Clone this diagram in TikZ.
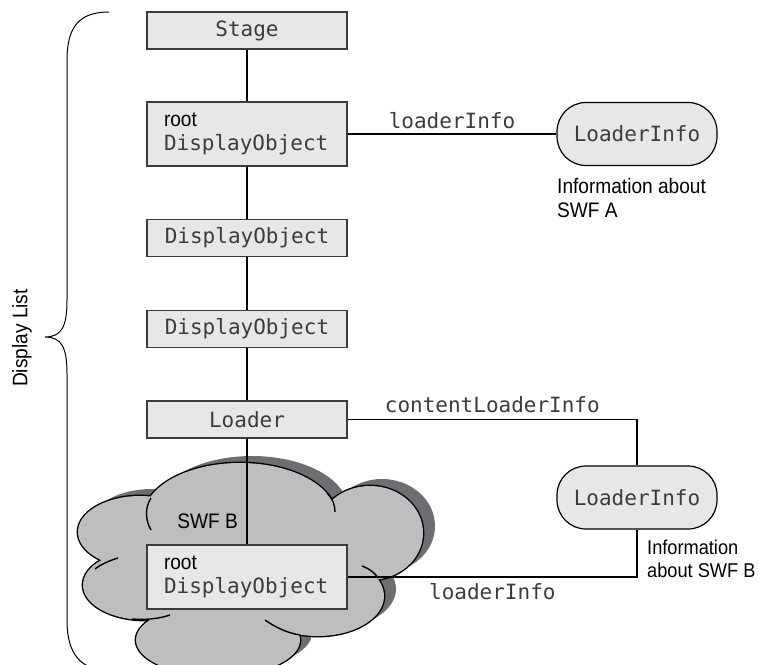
\documentclass[tikz,border=0pt]{standalone}
\usepackage{fontspec}
\setmainfont{Liberation Sans}[FakeStretch=0.91]
\setmonofont{DejaVu Sans Mono}
\definecolor{boxgray}{HTML}{E6E7E8}
\definecolor{cloudgray}{HTML}{BCBEC0}
\definecolor{shadowgray}{HTML}{6D6E71}
\definecolor{codegray}{HTML}{3C3C3C}
\newcommand{\codefont}{\ttfamily\fontsize{21}{24}\selectfont\color{codegray}}

\begin{document}
\begin{tikzpicture}[x=1pt, y=-1pt,
  every node/.style={font=\fontsize{21}{24}\selectfont},
  objbox/.style={draw=codegray, fill=boxgray, line width=1.3pt, minimum width=200pt, minimum height=37pt, inner sep=0pt, font=\codefont},
  rootbox/.style={objbox, minimum height=64pt, text width=166pt, inner xsep=17pt, align=left, font=\fontsize{21}{24}\selectfont},
  infobox/.style={draw=black, fill=boxgray, line width=1.2pt, rounded corners=29pt, minimum width=160pt, minimum height=63pt, font=\codefont},
  infotext/.style={inner sep=0pt, align=left, anchor=north west},
  codelabel/.style={font=\codefont, inner sep=2pt},
  conn/.style={line width=1.4pt}]
  \path[use as bounding box] (0,0) rectangle (759,664);
  \clip (0,0) rectangle (759,664);

  % cloud for SWF B: shadow, outline, fill
  \def\cloudlobes{240/516/96/53, 370/533/53/47, 318/596/66/40, 218/640/82/36, 145/585/62/35, 140/532/62/36}
  \foreach \cx/\cy/\rx/\ry in \cloudlobes
    \fill[shadowgray] (\cx+12,\cy-7) ellipse [x radius=\rx pt, y radius=\ry pt];
  \foreach \cx/\cy/\rx/\ry in \cloudlobes
    \draw[line width=2.8pt] (\cx,\cy) ellipse [x radius=\rx pt, y radius=\ry pt];
  \foreach \cx/\cy/\rx/\ry in \cloudlobes
    \fill[cloudgray] (\cx,\cy) ellipse [x radius=\rx pt, y radius=\ry pt];
  \fill[cloudgray] (255,580) ellipse [x radius=110pt, y radius=55pt];
  \draw[conn] (151,498) .. controls (145,507) and (145,520) .. (151,530);
  \draw[conn] (327,493) .. controls (333,499) and (335,505) .. (335,512);
  \draw[conn] (118,558) .. controls (108,561) and (100,565) .. (95,569);
  \draw[conn] (132,619) .. controls (145,620) and (158,619) .. (170,615);
  \draw[conn] (265,620) .. controls (275,627) and (287,633) .. (300,635);
  \draw[conn] (362,566) .. controls (370,569) and (375,573) .. (378,578);

  % display list brace
  \draw[line width=1pt] (109,12) .. controls (80,12) and (67,26) .. (67,60) -- (67,300)
    .. controls (67,326) and (62,337) .. (45,337) .. controls (62,337) and (67,348) .. (67,374)
    -- (67,620) .. controls (67,654) and (80,670) .. (112,672);
  \node[rotate=90] (dlist) at (22,338) {Display List};

  \node[objbox] (stage) at (247,30.5) {Stage};
  \node[rootbox] (root) at (247,134) {root\\{\codefont DisplayObject}};
  \node[objbox] (dobj1) at (247,238) {DisplayObject};
  \node[objbox] (dobj2) at (247,329) {DisplayObject};
  \node[objbox] (loader) at (247,419.5) {Loader};
  \node[rootbox] (swfroot) at (247,577) {root\\{\codefont DisplayObject}};
  \node[infobox] (infoA) at (637,134) {LoaderInfo};
  \node[infobox] (infoB) at (637,497.5) {LoaderInfo};

  \node[anchor=base east, inner sep=0pt] (swfB) at (238,528) {SWF B};
  \node[infotext] (aboutA) at (557,178) {Information about\\SWF A};
  \node[infotext, font=\fontsize{20}{23}\selectfont] (aboutB) at (647,540) {Information\\about SWF B};

  \foreach \a/\b in {stage/root, root/dobj1, dobj1/dobj2, dobj2/loader, loader/swfroot}
    \draw[conn] (\a) -- (\b);
  \draw[conn] (root) -- node[codelabel, above=3pt] (lblA) {loaderInfo} (infoA);
  \draw[conn] (loader) -| node[codelabel, pos=0.25, above=4pt] (lblC) {contentLoaderInfo} (infoB);
  \draw[conn] (infoB) |- node[codelabel, pos=0.75, below=4pt] (lblB) {loaderInfo} (swfroot);
\end{tikzpicture}
\end{document}
